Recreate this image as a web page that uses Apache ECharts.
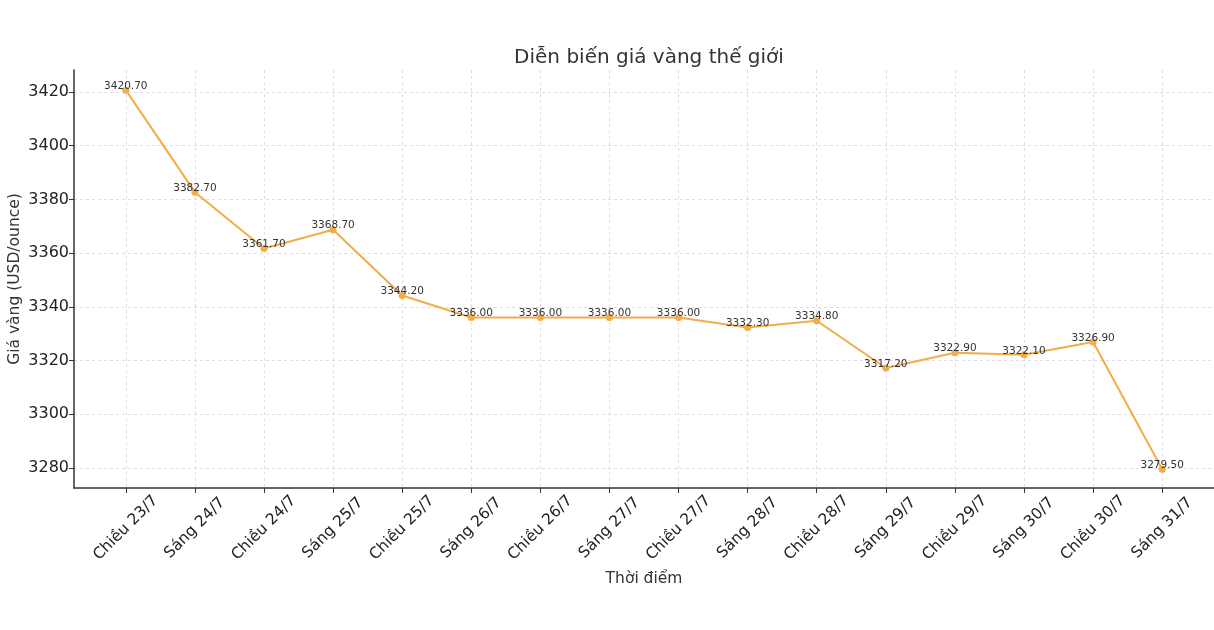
<!DOCTYPE html>
<html>
<head>
<meta charset="utf-8">
<script src="https://cdn.jsdelivr.net/npm/echarts@6/dist/echarts.min.js"></script>
<style>
  html, body { margin: 0; padding: 0; background: #fff; }
  #chart { width: 1214px; height: 630px; }
</style>
</head>
<body>
<div id="chart"></div>
<script>
// Gold price timeline
const categories = [
  "Chiều 23/7", "Sáng 24/7", "Chiều 24/7", "Sáng 25/7", "Chiều 25/7",
  "Sáng 26/7", "Chiều 26/7", "Sáng 27/7", "Chiều 27/7", "Sáng 28/7",
  "Chiều 28/7", "Sáng 29/7", "Chiều 29/7", "Sáng 30/7", "Chiều 30/7",
  "Sáng 31/7"
];
const prices = [
  3420.70, 3382.70, 3361.70, 3368.70, 3344.20,
  3336.00, 3336.00, 3336.00, 3336.00, 3332.30,
  3334.80, 3317.20, 3322.90, 3322.10, 3326.90,
  3279.50
];
const yTicks = [3280, 3300, 3320, 3340, 3360, 3380, 3400, 3420];

const font = "DejaVu Sans";
const xTicks = categories.map((_, i) => i);
const seriesData = prices.map((v, i) => [i, v]);

const chart = echarts.init(document.getElementById("chart"));

const gridLine = {
  show: true,
  lineStyle: { color: "#dcd0e2", width: 0.8, type: [3, 3] }
};

const option = {
  backgroundColor: "#fff",
  animation: false,
  title: {
    text: "Diễn biến giá vàng thế giới",
    left: 644,
    top: 43,
    textAlign: "center",
    textStyle: { fontFamily: font, fontSize: 20, fontWeight: "normal", color: "#333" }
  },
  grid: { left: 74, right: 0, top: 70, bottom: 142, containLabel: false, outerBoundsMode: "none" },
  xAxis: {
    type: "value",
    min: -0.75,
    max: 15.75,
    name: "Thời điểm",
    nameLocation: "middle",
    nameGap: 83,
    nameMoveOverlap: false,
    nameTextStyle: { fontFamily: font, fontSize: 15.5, color: "#333" },
    axisLine: { show: true, onZero: false, lineStyle: { color: "#333", width: 1.5 } },
    axisTick: { show: true, inside: false, length: 5, customValues: xTicks, lineStyle: { color: "#333" } },
    axisLabel: {
      customValues: xTicks,
      formatter: v => categories[v],
      rotate: 45,
      align: "center",
      verticalAlign: "middle",
      margin: 40,
      fontFamily: font,
      fontSize: 15.5,
      color: "#222"
    },
    splitLine: gridLine
  },
  yAxis: {
    type: "value",
    min: 3272.5,
    max: 3428.2,
    name: "Giá vàng (USD/ounce)",
    nameLocation: "middle",
    nameGap: 51,
    nameMoveOverlap: false,
    nameTextStyle: { fontFamily: font, fontSize: 15.5, color: "#333" },
    axisLine: { show: true, onZero: false, lineStyle: { color: "#333", width: 1.5 } },
    axisTick: { show: true, inside: false, length: 5, customValues: yTicks, lineStyle: { color: "#333" } },
    axisLabel: {
      customValues: yTicks,
      formatter: v => String(v),
      margin: 5,
      fontFamily: font,
      fontSize: 16,
      color: "#222"
    },
    splitLine: gridLine
  },
  series: [
    {
      name: "Giá vàng",
      type: "line",
      data: seriesData,
      symbol: "circle",
      symbolSize: 7,
      itemStyle: { color: "#f0ad48" },
      lineStyle: { color: "#f0ad48", width: 2 },
      label: {
        show: true,
        position: "top",
        distance: -5,
        formatter: p => p.value[1].toFixed(2),
        fontFamily: font,
        fontSize: 10.5,
        color: "#333"
      }
    }
  ]
};

chart.setOption(option);
window.addEventListener("resize", () => chart.resize());
</script>
</body>
</html>
